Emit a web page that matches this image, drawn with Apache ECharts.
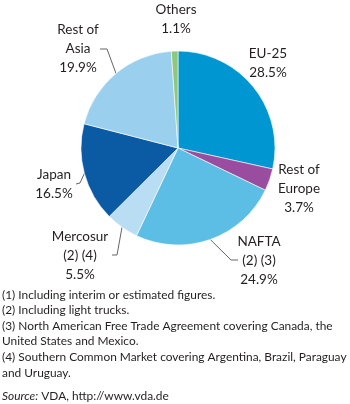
<!DOCTYPE html>
<html>
<head>
<meta charset="utf-8">
<script src="https://cdn.jsdelivr.net/npm/echarts@6/dist/echarts.min.js"></script>
<style>
  html, body { margin: 0; padding: 0; background: #fff; }
  #chart { width: 350px; height: 404px; }
</style>
</head>
<body>
<div id="chart"></div>
<script>
// slices, clockwise from 12 o'clock
const regions = ['EU-25', 'Rest of\nEurope', 'NAFTA\n(2) (3)', 'Mercosur\n(2) (4)', 'Japan', 'Rest of\nAsia', 'Others']
const shares = [28.5, 3.7, 24.9, 5.5, 16.5, 19.9, 1.1]
const colors = ['#0096d2', '#9a4c9e', '#5cbde5', '#b9def3', '#0a5aa4', '#9acfee', '#8dc87d']

const footnotes = [
  '(1) Including interim or estimated figures.',
  '(2) Including light trucks.',
  '(3) North American Free Trade Agreement covering Canada, the',
  'United States and Mexico.',
  '(4) Southern Common Market covering Argentina, Brazil, Paraguay',
  'and Uruguay.',
]
const source = 'VDA, http://www.vda.de'

const textColor = '#231f20'
const font = 'Lato'

// label placement: centre x, top y, and the leader line bend (null = no line)
const labelPos = [
  { x: 268, y: 44 },
  { x: 299, y: 160 },
  { x: 259, y: 232, bend: [231, 260], end: [238, 260] },
  { x: 80, y: 227, bend: [117, 255], end: [112, 255] },
  { x: 54, y: 165, bend: [80, 183], end: [76, 184] },
  { x: 78, y: 20, bend: [107, 49], end: [100, 49] },
  { x: 176, y: 0 },
]

const chart = echarts.init(document.getElementById('chart'), null, { renderer: 'canvas' })

const option = {
  backgroundColor: '#fff',
  animation: false,
  series: [
    {
      type: 'pie',
      center: [178, 148],
      radius: [0, 97],
      startAngle: 90,
      clockwise: true,
      avoidLabelOverlap: false,
      itemStyle: { borderColor: '#fff', borderWidth: 0.6 },
      label: {
        show: true,
        position: 'outside',
        color: textColor,
        fontFamily: font,
        fontSize: 13.5,
        lineHeight: 19,
        formatter: (p) => p.name + '\n' + p.value.toFixed(1) + '%',
      },
      labelLine: {
        show: true,
        lineStyle: { color: '#666', width: 1 },
      },
      labelLayout: (p) => {
        const pos = labelPos[p.dataIndex]
        const out = { x: pos.x, y: pos.y, align: 'center', verticalAlign: 'top' }
        if (pos.bend && p.labelLinePoints) {
          out.labelLinePoints = [p.labelLinePoints[0], pos.bend, pos.end]
        }
        return out
      },
      data: regions.map((name, i) => ({
        name,
        value: shares[i],
        itemStyle: { color: colors[i] },
        labelLine: { show: !!labelPos[i].bend },
      })),
    },
  ],
  graphic: [
    {
      type: 'text',
      left: 2,
      top: 287,
      style: {
        text: footnotes.join('\n'),
        fill: textColor,
        font: '11.9px ' + font,
        lineHeight: 15.6,
      },
    },
    {
      type: 'text',
      left: 2,
      top: 390,
      style: {
        text: '{i|Source:} ' + source,
        fill: textColor,
        font: '11.9px ' + font,
        rich: {
          i: { fontStyle: 'italic', fontFamily: font, fontSize: 11.9, fill: textColor },
        },
      },
    },
  ],
}

chart.setOption(option)
</script>
</body>
</html>
